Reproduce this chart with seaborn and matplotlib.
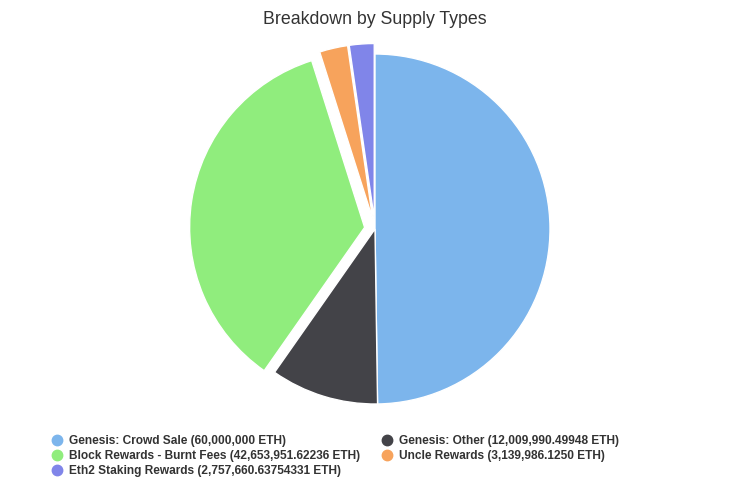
import matplotlib
matplotlib.use("Agg")
import matplotlib.pyplot as plt
from matplotlib.lines import Line2D
import seaborn as sns

# supply breakdown (ETH)
labels = [
    "Genesis: Crowd Sale",
    "Genesis: Other",
    "Block Rewards - Burnt Fees",
    "Uncle Rewards",
    "Eth2 Staking Rewards",
]
values = [60000000, 12009990.49948, 42653951.62236, 3139986.1250, 2757660.63754331]
value_text = ["60,000,000", "12,009,990.49948", "42,653,951.62236",
              "3,139,986.1250", "2,757,660.63754331"]
sliced = [False, False, True, True, True]
colors = ["#7cb5ec", "#434348", "#90ed7d", "#f7a35c", "#8085e9"]

sns.set_theme(style="white")
plt.rcParams["font.family"] = ["Liberation Sans", "DejaVu Sans"]

fig = plt.figure(figsize=(7.49, 4.98), dpi=100)
ax = fig.add_axes([156.25 / 749, 50.25 / 498, 437.5 / 749, 437.5 / 498])

explode = [0.06 if s else 0 for s in sliced]
ax.pie(values, colors=colors, explode=explode, startangle=90, counterclock=False,
       wedgeprops=dict(edgecolor="white", linewidth=1))
ax.set_xlim(-1.25, 1.25)
ax.set_ylim(-1.25, 1.25)
ax.set_aspect("equal")
ax.axis("off")

fig.text(375 / 749, 1 - 19 / 498, "Breakdown by Supply Types", ha="center", va="center",
         fontsize=12.8, color="#333333")

# legend laid out row by row like the original (two columns)
handles = [Line2D([0], [0], marker="o", linestyle="", markersize=7.5,
                  markerfacecolor=c, markeredgecolor=c) for c in colors]
texts = [f"{l} ({v} ETH)" for l, v in zip(labels, value_text)]
order = [0, 2, 4, 1, 3]
leg = fig.legend([handles[i] for i in order], [texts[i] for i in order],
                 loc="upper left", bbox_to_anchor=(51 / 749, 1 - 435 / 498),
                 ncol=2, frameon=False, borderpad=0, borderaxespad=0,
                 handlelength=0.95, handletextpad=0.55, labelspacing=0.27,
                 columnspacing=1.75, prop=dict(weight="bold", size=8.6))
for t in leg.get_texts():
    t.set_color("#333333")

fig.savefig("out.png", dpi=100)
